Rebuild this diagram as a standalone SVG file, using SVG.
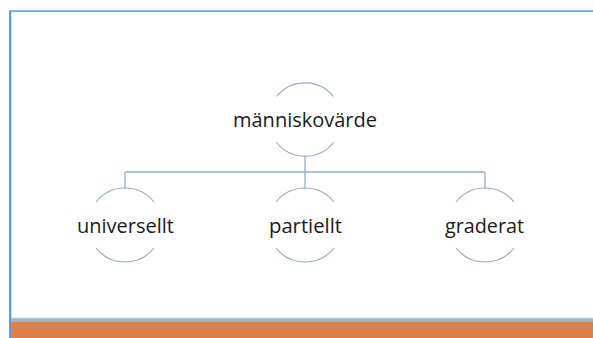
<svg xmlns="http://www.w3.org/2000/svg" width="593" height="338" viewBox="0 0 593 338">
<style>
.arc{fill:none;stroke:#94aecb;stroke-width:1.2}
.conn{fill:none;stroke:#94aecb;stroke-width:1.3}
.lbl{font-family:"Open Sans","Noto Sans","DejaVu Sans",sans-serif;font-size:20px;fill:#1a1a1a;text-anchor:middle}
</style>
<rect x="0" y="0" width="593" height="338" fill="#ffffff"/>
<g id="frame">
<line x1="10" y1="10.5" x2="10" y2="338" stroke="#5b9be0" stroke-width="2"/>
<line x1="9" y1="11.2" x2="593" y2="11.2" stroke="#6ea6e0" stroke-width="1.8"/>
<line x1="11.5" y1="12" x2="11.5" y2="318" stroke="#cfe2f5" stroke-width="1"/>
<rect x="11" y="317.5" width="582" height="1.5" fill="#d3e1ef"/>
<rect x="11" y="318.5" width="582" height="3.5" fill="#97b6d6"/>
<rect x="11" y="322" width="582" height="16" fill="#df7f48"/>
</g>
<g id="connectors">
<path class="conn" d="M305 156 V172 M125 172 H485 M125 172 V188.5 M305 172 V188.5 M485 172 V188.5"/>
</g>
<g id="node-top">
<path class="arc" d="M276.5 96.5 A36.5 36.5 0 0 1 333.5 96.5"/>
<path class="arc" d="M276.5 142.5 A36.5 36.5 0 0 0 333.5 142.5"/>
<text class="lbl" x="305" y="126.5" textLength="144" lengthAdjust="spacingAndGlyphs">människovärde</text>
</g>
<g id="node-universellt">
<path class="arc" d="M96 202 A37 37 0 0 1 154 202"/>
<path class="arc" d="M96 248 A37 37 0 0 0 154 248"/>
<text class="lbl" x="125.5" y="232.5" textLength="97" lengthAdjust="spacingAndGlyphs">universellt</text>
</g>
<g id="node-partiellt">
<path class="arc" d="M276 202 A37 37 0 0 1 334 202"/>
<path class="arc" d="M276 248 A37 37 0 0 0 334 248"/>
<text class="lbl" x="305.5" y="232.5" textLength="73" lengthAdjust="spacingAndGlyphs">partiellt</text>
</g>
<g id="node-graderat">
<path class="arc" d="M456 202 A37 37 0 0 1 514 202"/>
<path class="arc" d="M456 248 A37 37 0 0 0 514 248"/>
<text class="lbl" x="484.5" y="232.5" textLength="79" lengthAdjust="spacingAndGlyphs">graderat</text>
</g>
</svg>
